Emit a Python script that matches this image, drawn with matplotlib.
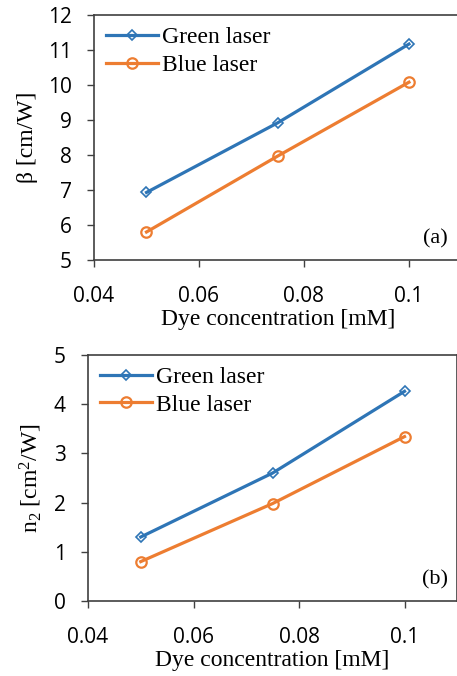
import matplotlib
matplotlib.use('Agg')
import matplotlib.pyplot as plt

# ----------------------------------------------------------------------------
# Data
# ----------------------------------------------------------------------------

conc = [0.05, 0.075, 0.1]
beta_green = [6.93, 8.92, 11.17]
beta_blue = [5.80, 7.97, 10.08]
n2_green = [1.30, 2.60, 4.26]
n2_blue = [0.80, 1.98, 3.34]

c_green = '#2E75B6'
c_blue = '#ED7D31'

plt.rcParams['mathtext.fontset'] = 'custom'
plt.rcParams['mathtext.rm'] = 'Liberation Serif'
plt.rcParams['mathtext.default'] = 'regular'

serif = 'Liberation Serif'
sans = 'Open Sans'

fig = plt.figure(figsize=(4.57, 6.76), dpi=100)
ax1 = fig.add_axes([0.2057, 0.6154, 0.804, 0.3624])
ax2 = fig.add_axes([0.1926, 0.111, 0.808, 0.364])


def style(ax, ylim, yticks, ylabel, tag, tag_x):
    ax.set_xlim(0.04, 0.11)
    ax.set_xticks([0.04, 0.06, 0.08, 0.1])
    ax.set_xticklabels(['0.04', '0.06', '0.08', '0.1'])
    ax.set_ylim(*ylim)
    ax.set_yticks(yticks)
    for lab in ax.get_xticklabels() + ax.get_yticklabels():
        lab.set_family(sans)
        lab.set_fontsize(15)
    ax.tick_params(direction='out', length=5, width=1, color='#404040')
    ax.tick_params(axis='x', pad=14)
    ax.tick_params(axis='y', pad=11)
    for s in ax.spines.values():
        s.set_color('#404040')
        s.set_linewidth(1.2)
    ax.set_xlabel('Dye concentration [mM]', family=serif, fontsize=17, labelpad=1)
    ax.set_ylabel(ylabel, family=serif, fontsize=17, labelpad=7)
    ax.text(tag_x, 0.085, tag, transform=ax.transAxes, ha='right', va='center',
            family=serif, fontsize=16)
    ax.legend(loc='upper left', frameon=False, prop={'family': serif, 'size': 17},
              handlelength=2.2, handletextpad=0.2, labelspacing=0.25,
              borderaxespad=0.1, bbox_to_anchor=(0.0, 1.0))


ax1.plot(conc, beta_green, color=c_green, lw=2.3, marker='D', ms=5.5,
         mfc='none', mec=c_green, mew=1.2, label='Green laser')
ax1.plot(conc, beta_blue, color=c_blue, lw=2.3, marker='o', ms=7.5,
         mfc='none', mec=c_blue, mew=1.6, label='Blue laser')
style(ax1, (5, 12), range(5, 13), r'β [cm/W]', '(a)', 0.963)

ax2.plot(conc, n2_green, color=c_green, lw=2.3, marker='D', ms=5.5,
         mfc='none', mec=c_green, mew=1.2, label='Green laser')
ax2.plot(conc, n2_blue, color=c_blue, lw=2.3, marker='o', ms=7.5,
         mfc='none', mec=c_blue, mew=1.6, label='Blue laser')
style(ax2, (0, 5), range(0, 6), r'n$_2$ [cm$^2$/W]', '(b)', 0.975)

fig.savefig('out.png', dpi=100)
